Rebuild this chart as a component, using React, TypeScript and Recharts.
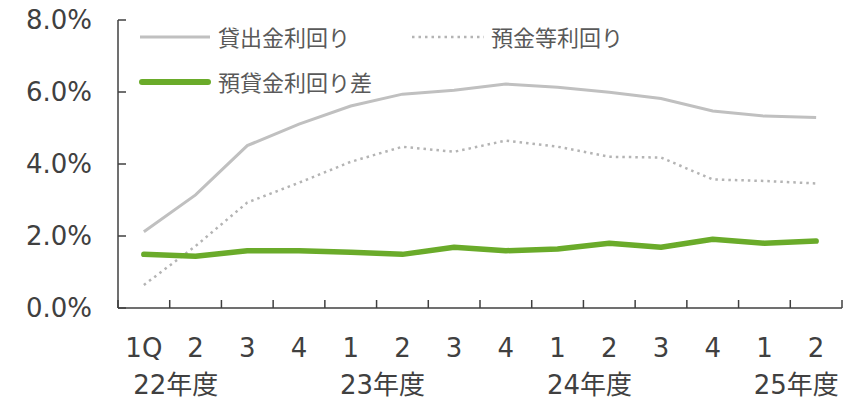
import React from 'react';
import { LineChart, Line, XAxis, YAxis, Legend } from 'recharts';

const quarters = ['1Q', '2', '3', '4', '1', '2', '3', '4', '1', '2', '3', '4', '1', '2'];
const fiscalYears = ['22年度', '', '', '', '23年度', '', '', '', '24年度', '', '', '', '25年度', ''];

const lendingYield = [2.12, 3.14, 4.51, 5.11, 5.61, 5.94, 6.05, 6.22, 6.13, 5.99, 5.82, 5.47, 5.33, 5.29];
const depositYield = [0.64, 1.72, 2.93, 3.48, 4.06, 4.48, 4.34, 4.65, 4.48, 4.2, 4.18, 3.57, 3.53, 3.46];
const spread = [1.49, 1.44, 1.59, 1.59, 1.55, 1.49, 1.69, 1.59, 1.64, 1.8, 1.69, 1.91, 1.8, 1.86];

const yTicks = [0, 2, 4, 6, 8];

const FONT = '"DejaVu Sans", "Noto Sans CJK JP", sans-serif';
const TEXT = '#404040';
const WIDTH = 859;
const HEIGHT = 401;
const Y_AXIS_W = 118;
const RIGHT = 17;
const BAND = (WIDTH - Y_AXIS_W - RIGHT) / quarters.length;

const data = quarters.map((q, i) => ({
  pos: i + 0.5,
  quarter: q,
  lending: lendingYield[i],
  deposit: depositYield[i],
  spread: spread[i],
}));

const xTickValues = quarters.map((_, i) => i).concat(quarters.length);

const QuarterTick = (props: any) => {
  const { x, y, payload } = props;
  const i = payload.value;
  if (i >= quarters.length) return null;
  const cx = x + BAND / 2;
  return (
    <g>
      <text x={cx} y={y + 40} dy="0.36em" textAnchor="middle" fontSize={26} fill={TEXT} fontFamily={FONT}>
        {quarters[i]}
      </text>
      {fiscalYears[i] && (
        <text x={cx + BAND / 2 + 6} y={y + 77} dy="0.36em" textAnchor="middle" fontSize={26} fill={TEXT} fontFamily={FONT}>
          {fiscalYears[i]}
        </text>
      )}
    </g>
  );
};

const renderLegend = () => (
  <svg width={WIDTH} height={100} style={{ display: 'block' }}>
    <line x1={140} x2={210} y1={37} y2={37} stroke="#c0c0c0" strokeWidth={3} />
    <text x={218} y={38} dy="0.36em" fontSize={22} fill="#595959" fontFamily={FONT}>貸出金利回り</text>
    <line x1={412} x2={484} y1={37} y2={37} stroke="#b4b4b4" strokeWidth={2.5} strokeDasharray="2.5 4" />
    <text x={491} y={38} dy="0.36em" fontSize={22} fill="#595959" fontFamily={FONT}>預金等利回り</text>
    <line x1={142} x2={208} y1={82} y2={82} stroke="#6aab2a" strokeWidth={6} strokeLinecap="round" />
    <text x={218} y={83} dy="0.36em" fontSize={22} fill="#595959" fontFamily={FONT}>預貸金利回り差</text>
  </svg>
);

export default function App() {
  return (
    <div style={{ position: 'absolute', left: 0, top: 0, width: WIDTH, height: HEIGHT, background: '#fff' }}>
      <LineChart width={WIDTH} height={HEIGHT} data={data} margin={{ top: 20, right: RIGHT, bottom: 0, left: 0 }}>
        <XAxis
          type="number"
          dataKey="pos"
          domain={[0, quarters.length]}
          ticks={xTickValues}
          interval={0}
          height={93}
          tickSize={-8}
          tickMargin={8}
          axisLine={{ stroke: TEXT, strokeWidth: 1.5 }}
          tickLine={{ stroke: TEXT, strokeWidth: 1.5 }}
          tick={<QuarterTick />}
        />
        <YAxis
          domain={[0, 8]}
          ticks={yTicks}
          width={Y_AXIS_W}
          tickSize={-8}
          tickMargin={34}
          axisLine={{ stroke: TEXT, strokeWidth: 1.5 }}
          tickLine={{ stroke: TEXT, strokeWidth: 1.5 }}
          tick={{ fill: TEXT, fontSize: 26, fontFamily: FONT }}
          tickFormatter={(v: number) => `${v.toFixed(1)}%`}
        />
        <Legend
          layout="horizontal"
          verticalAlign="middle"
          align="center"
          content={renderLegend}
          wrapperStyle={{ position: 'absolute', left: 0, top: 0, width: WIDTH, height: 100 }}
        />
        <Line type="linear" dataKey="lending" name="貸出金利回り" stroke="#c0c0c0" strokeWidth={3} dot={false} isAnimationActive={false} />
        <Line
          type="linear"
          dataKey="deposit"
          name="預金等利回り"
          stroke="#b4b4b4"
          strokeWidth={2.5}
          strokeDasharray="2.5 4"
          dot={false}
          isAnimationActive={false}
        />
        <Line
          type="linear"
          dataKey="spread"
          name="預貸金利回り差"
          stroke="#6aab2a"
          strokeWidth={5.5}
          strokeLinecap="round"
          strokeLinejoin="round"
          dot={false}
          isAnimationActive={false}
        />
      </LineChart>
    </div>
  );
}
